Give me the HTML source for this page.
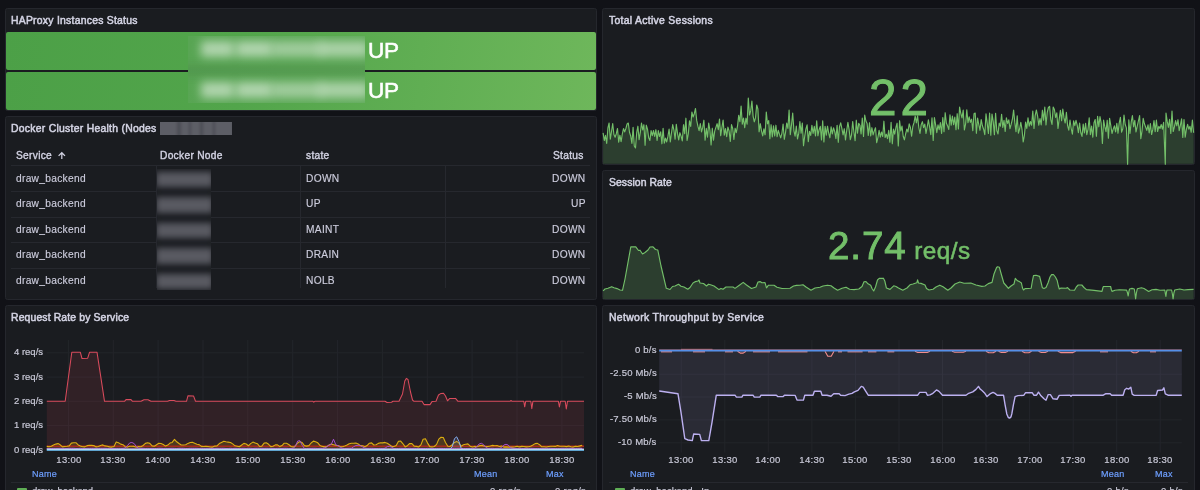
<!DOCTYPE html><html><head><meta charset="utf-8"><title>HAProxy Dashboard</title><style>
*{margin:0;padding:0;box-sizing:border-box}
html,body{width:1200px;height:490px;overflow:hidden;background:#111217;font-family:"Liberation Sans",sans-serif;color:#ccccdc}
.p{position:absolute;background:#1a1c20;border:1px solid #25272d;border-radius:2.5px;overflow:hidden}
.t{position:absolute;white-space:nowrap;line-height:12px;font-size:10px;will-change:transform}
.ti{font-size:10.4px;letter-spacing:.34px;color:#d4d4e4;-webkit-text-stroke:.5px #d4d4e4}
.ax{font-size:9.5px;color:#c8c8d6;letter-spacing:.3px;-webkit-text-stroke:.2px #c8c8d6}
.ay{font-size:9.5px;color:#c8c8d6;letter-spacing:0px;-webkit-text-stroke:.2px #c8c8d6}
.lg{font-size:9px;color:#6e9fff;letter-spacing:.25px;-webkit-text-stroke:.2px #6e9fff}
.td{font-size:10.2px;letter-spacing:.3px;color:#ccccdc;-webkit-text-stroke:.15px #ccccdc}
.th{font-size:10.2px;letter-spacing:.3px;color:#d2d2e2;-webkit-text-stroke:.38px #d2d2e2}
.hl{position:absolute;height:1px;background:#26282e}
.vl{position:absolute;width:1px;background:#26282e}
.blur{position:absolute;filter:blur(2.5px)}
svg{position:absolute;left:0;top:0}
</style></head><body>
<div class="p" style="left:5px;top:8px;width:592px;height:102.5px"></div>
<div class="p" style="left:5px;top:116px;width:592px;height:184px"></div>
<div class="p" style="left:5px;top:305.2px;width:592px;height:194.8px"></div>
<div class="p" style="left:602px;top:8px;width:592.8px;height:156.8px"></div>
<div class="p" style="left:602px;top:169.9px;width:592.8px;height:130.1px"></div>
<div class="p" style="left:602px;top:305.2px;width:592.8px;height:194.8px"></div>
<div class="t ti" style="left:11px;top:14.5px;letter-spacing:.25px">HAProxy Instances Status</div>
<div class="t ti" style="left:11px;top:122.5px;letter-spacing:.27px">Docker Cluster Health (Nodes</div>
<div class="t ti" style="left:11.4px;top:311.5px;letter-spacing:.14px">Request Rate by Service</div>
<div class="t ti" style="left:608.7px;top:14.5px;letter-spacing:.3px">Total Active Sessions</div>
<div class="t ti" style="left:608.7px;top:176.5px;letter-spacing:.08px">Session Rate</div>
<div class="t ti" style="left:608.7px;top:311.5px;">Network Throughput by Service</div>
<div style="position:absolute;left:6px;top:31.7px;width:590px;height:38.6px;border-radius:2px;background:linear-gradient(100deg,#4ca047 0%,#52a54b 40%,#6eb75b 100%)"></div>
<div style="position:absolute;left:6px;top:71.7px;width:590px;height:38.3px;border-radius:2px;background:linear-gradient(100deg,#4ca047 0%,#52a54b 40%,#6eb75b 100%)"></div>
<div style="position:absolute;left:187.5px;top:35.8px;width:177.5px;height:66.8px;overflow:hidden;background:linear-gradient(100deg,#58a553 0%,#5da957 100%)">
<div style="position:absolute;left:-20px;top:33.9px;width:220px;height:1.7px;background:#111217;filter:blur(5.5px)"></div>
<div style="position:absolute;left:13px;top:5.2px;width:33px;height:16.5px;background:rgba(255,255,255,0.52);filter:blur(4.8px)"></div>
<div style="position:absolute;left:48px;top:5.2px;width:36px;height:16.5px;background:rgba(255,255,255,0.52);filter:blur(4.8px)"></div>
<div style="position:absolute;left:84px;top:5.2px;width:50px;height:16.5px;background:rgba(255,255,255,0.42);filter:blur(4.8px)"></div>
<div style="position:absolute;left:131px;top:5.2px;width:50px;height:16.5px;background:rgba(255,255,255,0.48);filter:blur(4.8px)"></div>
<div style="position:absolute;left:13px;top:46.0px;width:33px;height:16.5px;background:rgba(255,255,255,0.52);filter:blur(4.8px)"></div>
<div style="position:absolute;left:48px;top:46.0px;width:36px;height:16.5px;background:rgba(255,255,255,0.52);filter:blur(4.8px)"></div>
<div style="position:absolute;left:84px;top:46.0px;width:50px;height:16.5px;background:rgba(255,255,255,0.42);filter:blur(4.8px)"></div>
<div style="position:absolute;left:131px;top:46.0px;width:50px;height:16.5px;background:rgba(255,255,255,0.48);filter:blur(4.8px)"></div>
</div>
<div class="t" style="left:368.3px;top:37px;font-size:22.6px;line-height:28px;color:#fff;letter-spacing:-.4px;-webkit-text-stroke:.55px #fff">UP</div>
<div class="t" style="left:368.3px;top:76.8px;font-size:22.6px;line-height:28px;color:#fff;letter-spacing:-.4px;-webkit-text-stroke:.55px #fff">UP</div>
<div style="position:absolute;left:159.8px;top:122.1px;width:72px;height:12.7px;overflow:hidden;background:#4c4d55">
<div style="position:absolute;left:-3px;top:-3px;width:20px;height:19px;background:#5d5e66;filter:blur(1.6px)"></div>
<div style="position:absolute;left:21.5px;top:-3px;width:7.5px;height:19px;background:#5d5e66;filter:blur(1.6px)"></div>
<div style="position:absolute;left:31.5px;top:-3px;width:8.5px;height:19px;background:#5d5e66;filter:blur(1.6px)"></div>
<div style="position:absolute;left:43.5px;top:-3px;width:9.5px;height:19px;background:#5d5e66;filter:blur(1.6px)"></div>
<div style="position:absolute;left:55px;top:-3px;width:18px;height:19px;background:#5d5e66;filter:blur(1.6px)"></div>
</div>
<div class="t th" style="left:15.5px;top:149.8px;">Service</div>
<svg width="1200" height="490" style="pointer-events:none"><path d="M61.8 159V152.9M58.6 155.9L61.8 152.7L65 155.9" fill="none" stroke="#d2d2e2" stroke-width="1.25"/></svg>
<div class="t th" style="left:160px;top:149.8px;">Docker Node</div>
<div class="t th" style="left:305.7px;top:149.8px;">state</div>
<div class="t th" style="right:616.7px;top:149.8px;">Status</div>
<div class="hl" style="left:11px;top:165px;width:579px"></div>
<div class="t td" style="left:15.5px;top:172.6px;">draw_backend</div>
<div class="t td" style="left:305.6px;top:172.6px;">DOWN</div>
<div class="t td" style="right:614.1px;top:172.6px;">DOWN</div>
<div class="hl" style="left:11px;top:191.00px;width:579px"></div>
<div class="t td" style="left:15.5px;top:198.15px;">draw_backend</div>
<div class="t td" style="left:305.6px;top:198.15px;">UP</div>
<div class="t td" style="right:614.1px;top:198.15px;">UP</div>
<div class="hl" style="left:11px;top:216.55px;width:579px"></div>
<div class="t td" style="left:15.5px;top:223.7px;">draw_backend</div>
<div class="t td" style="left:305.6px;top:223.7px;">MAINT</div>
<div class="t td" style="right:614.1px;top:223.7px;">DOWN</div>
<div class="hl" style="left:11px;top:242.10px;width:579px"></div>
<div class="t td" style="left:15.5px;top:249.25px;">draw_backend</div>
<div class="t td" style="left:305.6px;top:249.25px;">DRAIN</div>
<div class="t td" style="right:614.1px;top:249.25px;">DOWN</div>
<div class="hl" style="left:11px;top:267.65px;width:579px"></div>
<div class="t td" style="left:15.5px;top:274.8px;">draw_backend</div>
<div class="t td" style="left:305.6px;top:274.8px;">NOLB</div>
<div class="t td" style="right:614.1px;top:274.8px;">DOWN</div>
<div class="vl" style="left:156px;top:166px;height:122px"></div>
<div class="vl" style="left:300px;top:166px;height:122px"></div>
<div class="vl" style="left:445px;top:166px;height:122px"></div>
<div style="position:absolute;left:157.3px;top:169px;width:53.5px;height:121px;overflow:hidden;background:#1a1c20">
<div style="position:absolute;left:-1px;top:2.80px;width:57px;height:15.2px;background:#595a62;filter:blur(3px)"></div>
<div style="position:absolute;left:-1px;top:28.35px;width:57px;height:15.2px;background:#595a62;filter:blur(3px)"></div>
<div style="position:absolute;left:-1px;top:53.90px;width:57px;height:15.2px;background:#595a62;filter:blur(3px)"></div>
<div style="position:absolute;left:-1px;top:79.45px;width:57px;height:15.2px;background:#595a62;filter:blur(3px)"></div>
<div style="position:absolute;left:-1px;top:105.00px;width:57px;height:15.2px;background:#595a62;filter:blur(3px)"></div>
</div>
<svg width="1200" height="490" viewBox="0 0 1200 490">
<path d="M46.8 352.8H584.0" stroke="#23252a" stroke-width="1"/>
<path d="M46.8 377.1H584.0" stroke="#23252a" stroke-width="1"/>
<path d="M46.8 401.3H584.0" stroke="#23252a" stroke-width="1"/>
<path d="M46.8 425.6H584.0" stroke="#23252a" stroke-width="1"/>
<path d="M46.8 449.8H584.0" stroke="#23252a" stroke-width="1"/>
<path d="M68.4 340V452.6" stroke="#23252a" stroke-width="1"/>
<path d="M113.3 340V452.6" stroke="#23252a" stroke-width="1"/>
<path d="M158.1 340V452.6" stroke="#23252a" stroke-width="1"/>
<path d="M203.0 340V452.6" stroke="#23252a" stroke-width="1"/>
<path d="M247.8 340V452.6" stroke="#23252a" stroke-width="1"/>
<path d="M292.7 340V452.6" stroke="#23252a" stroke-width="1"/>
<path d="M337.6 340V452.6" stroke="#23252a" stroke-width="1"/>
<path d="M382.4 340V452.6" stroke="#23252a" stroke-width="1"/>
<path d="M427.3 340V452.6" stroke="#23252a" stroke-width="1"/>
<path d="M472.1 340V452.6" stroke="#23252a" stroke-width="1"/>
<path d="M517.0 340V452.6" stroke="#23252a" stroke-width="1"/>
<path d="M561.9 340V452.6" stroke="#23252a" stroke-width="1"/>
<path d="M46.8 401.3 L65.2 401.3 L71.8 352.2 L80.3 352.2 L82.0 358.5 L87.7 358.2 L89.6 352.2 L97.0 352.2 L104.5 401.3 L124.5 401.3 L126.0 399.6 L131.0 399.6 L132.5 401.3 L141.0 401.3 L144.0 399.7 L148.0 399.7 L151.0 401.3 L167.5 401.3 L169.5 400.5 L174.0 400.5 L176.0 401.3 L186.5 401.3 L188.0 395.7 L193.5 395.9 L195.5 401.3 L313.0 401.3 L313.8 402.2 L314.8 401.3 L385.0 401.3 L387.0 402.5 L391.5 402.3 L393.0 401.3 L399.0 401.3 L402.5 394.0 L404.8 381.0 L406.3 378.4 L408.0 379.5 L410.5 392.0 L412.5 400.0 L414.0 401.3 L422.0 401.3 L424.0 404.6 L430.0 404.6 L432.0 401.6 L436.0 401.3 L438.5 395.0 L441.0 393.4 L443.5 393.2 L445.5 396.0 L447.5 400.8 L449.5 398.6 L455.5 398.4 L458.0 401.3 L510.0 401.3 L511.0 400.5 L512.0 401.3 L523.8 401.3 L524.7 406.8 L525.7 401.3 L530.8 401.3 L531.8 408.6 L532.9 401.3 L558.4 401.3 L559.4 407.0 L560.5 401.3 L565.2 401.3 L566.3 409.0 L567.5 401.3 L584.0 401.3 L584.0 449.5 L46.8 449.5Z" fill="#f2495c" fill-opacity="0.105" stroke="none"/>
<path d="M46.8 446.4 L49.0 446.7 L51.3 446.3 L53.5 445.1 L55.8 444.1 L58.0 443.6 L60.2 444.8 L62.5 446.9 L64.7 446.5 L67.0 446.3 L69.2 445.9 L71.4 443.1 L73.7 442.7 L75.9 442.7 L78.2 444.9 L80.4 446.1 L82.6 446.8 L84.9 446.9 L87.1 445.6 L89.4 445.3 L91.6 445.4 L93.8 445.6 L96.1 446.9 L98.3 446.5 L100.6 445.5 L102.8 444.9 L105.0 445.9 L107.3 446.3 L109.5 446.9 L111.8 447.1 L114.0 446.4 L116.2 441.9 L118.5 442.8 L120.7 444.1 L123.0 444.7 L125.2 446.7 L127.4 447.1 L129.7 446.3 L131.9 446.3 L134.2 446.4 L136.4 447.2 L138.6 446.6 L140.9 446.8 L143.1 445.5 L145.4 443.4 L147.6 442.8 L149.8 443.4 L152.1 445.9 L154.3 446.3 L156.6 444.7 L158.8 443.3 L161.0 443.5 L163.3 444.5 L165.5 446.1 L167.8 445.1 L170.0 443.1 L172.2 442.4 L174.5 439.4 L176.7 441.8 L179.0 443.5 L181.2 445.0 L183.4 445.0 L185.7 444.8 L187.9 443.4 L190.2 442.5 L192.4 442.3 L194.6 443.2 L196.9 444.2 L199.1 444.6 L201.4 446.4 L203.6 446.5 L205.8 446.3 L208.1 446.5 L210.3 447.0 L212.6 447.1 L214.8 446.1 L217.0 445.9 L219.3 443.6 L221.5 442.4 L223.8 441.2 L226.0 441.7 L228.2 442.1 L230.5 442.5 L232.7 443.9 L235.0 445.8 L237.2 446.2 L239.4 446.8 L241.7 445.0 L243.9 443.4 L246.2 444.0 L248.4 445.8 L250.6 443.6 L252.9 442.1 L255.1 442.9 L257.4 443.7 L259.6 446.5 L261.8 446.2 L264.1 443.1 L266.3 442.8 L268.6 444.3 L270.8 446.6 L273.0 446.3 L275.3 444.9 L277.5 444.9 L279.8 446.6 L282.0 445.6 L284.2 443.2 L286.5 443.3 L288.7 444.5 L291.0 446.4 L293.2 447.1 L295.4 445.7 L297.7 443.0 L299.9 441.6 L302.2 442.7 L304.4 445.6 L306.6 446.1 L308.9 445.6 L311.1 443.0 L313.4 441.1 L315.6 441.7 L317.8 442.8 L320.1 445.6 L322.3 446.4 L324.6 446.9 L326.8 446.6 L329.0 444.9 L331.3 444.1 L333.5 444.7 L335.8 445.3 L338.0 445.6 L340.2 446.5 L342.5 446.7 L344.7 446.0 L347.0 445.0 L349.2 443.7 L351.4 443.2 L353.7 443.3 L355.9 443.1 L358.2 444.0 L360.4 445.6 L362.6 445.8 L364.9 446.7 L367.1 445.6 L369.4 443.2 L371.6 442.9 L373.8 445.0 L376.1 444.8 L378.3 443.4 L380.6 442.8 L382.8 442.9 L385.0 442.4 L387.3 443.3 L389.5 444.8 L391.8 446.5 L394.0 446.5 L396.2 445.5 L398.5 441.3 L400.7 441.1 L403.0 443.8 L405.2 446.9 L407.4 445.7 L409.7 443.5 L411.9 443.6 L414.2 446.2 L416.4 446.4 L418.6 447.0 L420.9 444.9 L423.1 439.2 L425.4 438.8 L427.6 443.1 L429.8 446.6 L432.1 447.0 L434.3 446.5 L436.6 444.4 L438.8 439.1 L441.0 437.3 L443.3 437.5 L445.5 442.5 L447.8 446.3 L450.0 446.5 L452.2 444.7 L454.5 442.4 L456.7 441.4 L459.0 443.1 L461.2 446.2 L463.4 444.8 L465.7 444.2 L467.9 443.9 L470.2 446.2 L472.4 447.1 L474.6 446.4 L476.9 446.8 L479.1 445.9 L481.4 445.4 L483.6 445.9 L485.8 446.5 L488.1 446.5 L490.3 446.0 L492.6 445.4 L494.8 445.8 L497.0 445.6 L499.3 446.5 L501.5 446.1 L503.8 447.1 L506.0 446.9 L508.2 447.1 L510.5 447.1 L512.7 447.1 L515.0 446.8 L517.2 446.2 L519.4 446.9 L521.7 446.4 L523.9 446.5 L526.2 446.9 L528.4 446.7 L530.6 446.2 L532.9 445.0 L535.1 443.6 L537.4 443.4 L539.6 444.7 L541.8 446.8 L544.1 446.7 L546.3 447.0 L548.6 446.5 L550.8 446.2 L553.0 446.3 L555.3 446.4 L557.5 445.6 L559.8 446.2 L562.0 446.3 L564.2 446.3 L566.5 446.6 L568.7 446.0 L571.0 446.8 L573.2 447.1 L575.4 446.2 L577.7 446.5 L579.9 445.9 L582.2 445.2 L582.2 449.5 L46.8 449.5Z" fill="#e0b400" fill-opacity="0.17" stroke="none"/>
<path d="M46.8 446.2 H584.0" stroke="#a82b1d" stroke-width="1.5" fill="none"/>
<path d="M46.8 446.4 L49.0 446.7 L51.3 446.3 L53.5 445.1 L55.8 444.1 L58.0 443.6 L60.2 444.8 L62.5 446.9 L64.7 446.5 L67.0 446.3 L69.2 445.9 L71.4 443.1 L73.7 442.7 L75.9 442.7 L78.2 444.9 L80.4 446.1 L82.6 446.8 L84.9 446.9 L87.1 445.6 L89.4 445.3 L91.6 445.4 L93.8 445.6 L96.1 446.9 L98.3 446.5 L100.6 445.5 L102.8 444.9 L105.0 445.9 L107.3 446.3 L109.5 446.9 L111.8 447.1 L114.0 446.4 L116.2 441.9 L118.5 442.8 L120.7 444.1 L123.0 444.7 L125.2 446.7 L127.4 447.1 L129.7 446.3 L131.9 446.3 L134.2 446.4 L136.4 447.2 L138.6 446.6 L140.9 446.8 L143.1 445.5 L145.4 443.4 L147.6 442.8 L149.8 443.4 L152.1 445.9 L154.3 446.3 L156.6 444.7 L158.8 443.3 L161.0 443.5 L163.3 444.5 L165.5 446.1 L167.8 445.1 L170.0 443.1 L172.2 442.4 L174.5 439.4 L176.7 441.8 L179.0 443.5 L181.2 445.0 L183.4 445.0 L185.7 444.8 L187.9 443.4 L190.2 442.5 L192.4 442.3 L194.6 443.2 L196.9 444.2 L199.1 444.6 L201.4 446.4 L203.6 446.5 L205.8 446.3 L208.1 446.5 L210.3 447.0 L212.6 447.1 L214.8 446.1 L217.0 445.9 L219.3 443.6 L221.5 442.4 L223.8 441.2 L226.0 441.7 L228.2 442.1 L230.5 442.5 L232.7 443.9 L235.0 445.8 L237.2 446.2 L239.4 446.8 L241.7 445.0 L243.9 443.4 L246.2 444.0 L248.4 445.8 L250.6 443.6 L252.9 442.1 L255.1 442.9 L257.4 443.7 L259.6 446.5 L261.8 446.2 L264.1 443.1 L266.3 442.8 L268.6 444.3 L270.8 446.6 L273.0 446.3 L275.3 444.9 L277.5 444.9 L279.8 446.6 L282.0 445.6 L284.2 443.2 L286.5 443.3 L288.7 444.5 L291.0 446.4 L293.2 447.1 L295.4 445.7 L297.7 443.0 L299.9 441.6 L302.2 442.7 L304.4 445.6 L306.6 446.1 L308.9 445.6 L311.1 443.0 L313.4 441.1 L315.6 441.7 L317.8 442.8 L320.1 445.6 L322.3 446.4 L324.6 446.9 L326.8 446.6 L329.0 444.9 L331.3 444.1 L333.5 444.7 L335.8 445.3 L338.0 445.6 L340.2 446.5 L342.5 446.7 L344.7 446.0 L347.0 445.0 L349.2 443.7 L351.4 443.2 L353.7 443.3 L355.9 443.1 L358.2 444.0 L360.4 445.6 L362.6 445.8 L364.9 446.7 L367.1 445.6 L369.4 443.2 L371.6 442.9 L373.8 445.0 L376.1 444.8 L378.3 443.4 L380.6 442.8 L382.8 442.9 L385.0 442.4 L387.3 443.3 L389.5 444.8 L391.8 446.5 L394.0 446.5 L396.2 445.5 L398.5 441.3 L400.7 441.1 L403.0 443.8 L405.2 446.9 L407.4 445.7 L409.7 443.5 L411.9 443.6 L414.2 446.2 L416.4 446.4 L418.6 447.0 L420.9 444.9 L423.1 439.2 L425.4 438.8 L427.6 443.1 L429.8 446.6 L432.1 447.0 L434.3 446.5 L436.6 444.4 L438.8 439.1 L441.0 437.3 L443.3 437.5 L445.5 442.5 L447.8 446.3 L450.0 446.5 L452.2 444.7 L454.5 442.4 L456.7 441.4 L459.0 443.1 L461.2 446.2 L463.4 444.8 L465.7 444.2 L467.9 443.9 L470.2 446.2 L472.4 447.1 L474.6 446.4 L476.9 446.8 L479.1 445.9 L481.4 445.4 L483.6 445.9 L485.8 446.5 L488.1 446.5 L490.3 446.0 L492.6 445.4 L494.8 445.8 L497.0 445.6 L499.3 446.5 L501.5 446.1 L503.8 447.1 L506.0 446.9 L508.2 447.1 L510.5 447.1 L512.7 447.1 L515.0 446.8 L517.2 446.2 L519.4 446.9 L521.7 446.4 L523.9 446.5 L526.2 446.9 L528.4 446.7 L530.6 446.2 L532.9 445.0 L535.1 443.6 L537.4 443.4 L539.6 444.7 L541.8 446.8 L544.1 446.7 L546.3 447.0 L548.6 446.5 L550.8 446.2 L553.0 446.3 L555.3 446.4 L557.5 445.6 L559.8 446.2 L562.0 446.3 L564.2 446.3 L566.5 446.6 L568.7 446.0 L571.0 446.8 L573.2 447.1 L575.4 446.2 L577.7 446.5 L579.9 445.9 L582.2 445.2" fill="none" stroke="#dcae10" stroke-width="1.1" stroke-linejoin="round"/>
<path d="M46.8 448.4 L49.0 448.4 L51.3 448.5 L53.5 448.4 L55.8 448.4 L58.0 448.4 L60.2 448.3 L62.5 448.4 L64.7 448.4 L67.0 448.5 L69.2 448.3 L71.4 448.3 L73.7 448.3 L75.9 448.5 L78.2 448.5 L80.4 448.3 L82.6 448.5 L84.9 448.5 L87.1 448.4 L89.4 448.4 L91.6 448.3 L93.8 448.3 L96.1 448.4 L98.3 448.3 L100.6 448.3 L102.8 448.3 L105.0 448.3 L107.3 448.4 L109.5 448.4 L111.8 448.5 L114.0 448.4 L116.2 448.4 L118.5 448.4 L120.7 448.4 L123.0 448.4 L125.2 447.9 L127.4 445.7 L129.7 442.9 L131.9 442.5 L134.2 443.6 L136.4 446.7 L138.6 448.2 L140.9 448.3 L143.1 448.3 L145.4 448.5 L147.6 448.4 L149.8 448.5 L152.1 448.4 L154.3 448.5 L156.6 448.5 L158.8 448.3 L161.0 448.3 L163.3 448.5 L165.5 448.4 L167.8 448.5 L170.0 448.4 L172.2 448.3 L174.5 448.4 L176.7 448.5 L179.0 448.3 L181.2 448.3 L183.4 448.3 L185.7 448.5 L187.9 448.5 L190.2 448.3 L192.4 448.3 L194.6 448.3 L196.9 448.3 L199.1 448.5 L201.4 448.3 L203.6 448.4 L205.8 448.4 L208.1 448.3 L210.3 448.5 L212.6 448.3 L214.8 448.4 L217.0 448.3 L219.3 448.4 L221.5 448.3 L223.8 448.3 L226.0 448.5 L228.2 448.5 L230.5 448.3 L232.7 448.5 L235.0 448.3 L237.2 448.4 L239.4 448.5 L241.7 448.4 L243.9 448.3 L246.2 448.5 L248.4 448.3 L250.6 448.3 L252.9 448.5 L255.1 448.3 L257.4 448.3 L259.6 448.3 L261.8 448.3 L264.1 448.4 L266.3 448.3 L268.6 448.4 L270.8 448.4 L273.0 448.4 L275.3 448.5 L277.5 448.4 L279.8 448.4 L282.0 448.5 L284.2 448.3 L286.5 448.3 L288.7 448.5 L291.0 448.5 L293.2 448.3 L295.4 446.3 L297.7 441.0 L299.9 440.7 L302.2 445.3 L304.4 448.5 L306.6 448.5 L308.9 448.4 L311.1 448.4 L313.4 448.3 L315.6 448.3 L317.8 448.5 L320.1 448.3 L322.3 448.4 L324.6 447.9 L326.8 446.8 L329.0 445.2 L331.3 444.4 L333.5 439.2 L335.8 444.8 L338.0 445.7 L340.2 447.3 L342.5 448.2 L344.7 448.5 L347.0 448.4 L349.2 448.3 L351.4 448.2 L353.7 446.7 L355.9 445.5 L358.2 445.3 L360.4 445.7 L362.6 446.9 L364.9 448.1 L367.1 448.4 L369.4 448.4 L371.6 448.3 L373.8 448.4 L376.1 448.5 L378.3 448.5 L380.6 448.4 L382.8 448.5 L385.0 448.2 L387.3 446.6 L389.5 446.3 L391.8 447.3 L394.0 448.5 L396.2 448.5 L398.5 448.5 L400.7 448.3 L403.0 448.4 L405.2 448.4 L407.4 448.5 L409.7 448.3 L411.9 448.5 L414.2 448.3 L416.4 448.4 L418.6 448.5 L420.9 448.5 L423.1 448.5 L425.4 448.5 L427.6 448.5 L429.8 448.5 L432.1 448.4 L434.3 448.5 L436.6 448.5 L438.8 448.5 L441.0 448.4 L443.3 448.5 L445.5 448.5 L447.8 448.4 L450.0 448.4 L452.2 448.4 L454.5 448.4 L456.7 448.4 L459.0 448.3 L461.2 448.4 L463.4 448.5 L465.7 448.5 L467.9 448.5 L470.2 448.4 L472.4 448.5 L474.6 448.3 L476.9 446.7 L479.1 444.0 L481.4 443.3 L483.6 444.7 L485.8 447.4 L488.1 448.4 L490.3 448.4 L492.6 448.3 L494.8 448.5 L497.0 448.4 L499.3 448.4 L501.5 447.5 L503.8 445.0 L506.0 444.3 L508.2 445.0 L510.5 447.5 L512.7 448.3 L515.0 448.3 L517.2 448.5 L519.4 448.4 L521.7 448.4 L523.9 448.5 L526.2 448.3 L528.4 448.4 L530.6 448.3 L532.9 448.4 L535.1 448.5 L537.4 448.5 L539.6 448.5 L541.8 448.4 L544.1 448.4 L546.3 448.3 L548.6 448.3 L550.8 448.4 L553.0 448.5 L555.3 448.5 L557.5 448.5 L559.8 448.5 L562.0 448.3 L564.2 448.3 L566.5 448.4 L568.7 448.3 L571.0 448.3 L573.2 448.4 L575.4 448.4 L577.7 448.4 L579.9 448.3 L582.2 448.5" fill="none" stroke="#a352cc" stroke-width="1" stroke-linejoin="round"/>
<path d="M46.8 449.0 L49.0 449.0 L51.3 449.0 L53.5 449.0 L55.8 449.0 L58.0 449.0 L60.2 449.0 L62.5 449.0 L64.7 449.0 L67.0 449.0 L69.2 449.0 L71.4 449.0 L73.7 449.0 L75.9 449.0 L78.2 449.0 L80.4 449.0 L82.6 449.0 L84.9 449.0 L87.1 449.0 L89.4 449.0 L91.6 449.0 L93.8 449.0 L96.1 449.0 L98.3 449.0 L100.6 449.0 L102.8 449.0 L105.0 449.0 L107.3 449.0 L109.5 449.0 L111.8 449.0 L114.0 449.0 L116.2 449.0 L118.5 449.0 L120.7 449.0 L123.0 449.0 L125.2 449.0 L127.4 449.0 L129.7 449.0 L131.9 449.0 L134.2 449.0 L136.4 449.0 L138.6 449.0 L140.9 449.0 L143.1 449.0 L145.4 449.0 L147.6 449.0 L149.8 449.0 L152.1 449.0 L154.3 449.0 L156.6 449.0 L158.8 449.0 L161.0 449.0 L163.3 449.0 L165.5 449.0 L167.8 449.0 L170.0 449.0 L172.2 449.0 L174.5 449.0 L176.7 449.0 L179.0 449.0 L181.2 449.0 L183.4 449.0 L185.7 449.0 L187.9 449.0 L190.2 449.0 L192.4 449.0 L194.6 449.0 L196.9 449.0 L199.1 449.0 L201.4 449.0 L203.6 449.0 L205.8 449.0 L208.1 449.0 L210.3 449.0 L212.6 449.0 L214.8 449.0 L217.0 449.0 L219.3 449.0 L221.5 449.0 L223.8 449.0 L226.0 449.0 L228.2 449.0 L230.5 449.0 L232.7 449.0 L235.0 449.0 L237.2 449.0 L239.4 449.0 L241.7 449.0 L243.9 449.0 L246.2 449.0 L248.4 449.0 L250.6 449.0 L252.9 449.0 L255.1 449.0 L257.4 449.0 L259.6 449.0 L261.8 449.0 L264.1 449.0 L266.3 449.0 L268.6 449.0 L270.8 449.0 L273.0 449.0 L275.3 449.0 L277.5 449.0 L279.8 449.0 L282.0 449.0 L284.2 449.0 L286.5 449.0 L288.7 449.0 L291.0 449.0 L293.2 449.0 L295.4 449.0 L297.7 449.0 L299.9 449.0 L302.2 449.0 L304.4 449.0 L306.6 449.0 L308.9 449.0 L311.1 449.0 L313.4 449.0 L315.6 449.0 L317.8 449.0 L320.1 449.0 L322.3 449.0 L324.6 449.0 L326.8 449.0 L329.0 449.0 L331.3 449.0 L333.5 449.0 L335.8 449.0 L338.0 449.0 L340.2 449.0 L342.5 449.0 L344.7 449.0 L347.0 449.0 L349.2 449.0 L351.4 449.0 L353.7 449.0 L355.9 449.0 L358.2 449.0 L360.4 449.0 L362.6 449.0 L364.9 449.0 L367.1 449.0 L369.4 449.0 L371.6 449.0 L373.8 449.0 L376.1 449.0 L378.3 449.0 L380.6 449.0 L382.8 449.0 L385.0 449.0 L387.3 449.0 L389.5 449.0 L391.8 449.0 L394.0 449.0 L396.2 449.0 L398.5 449.0 L400.7 449.0 L403.0 449.0 L405.2 449.0 L407.4 449.0 L409.7 449.0 L411.9 449.0 L414.2 449.0 L416.4 449.0 L418.6 449.0 L420.9 449.0 L423.1 449.0 L425.4 449.0 L427.6 449.0 L429.8 449.0 L432.1 449.0 L434.3 449.0 L436.6 449.0 L438.8 449.0 L441.0 449.0 L443.3 449.0 L445.5 449.0 L447.8 449.0 L450.0 449.0 L452.2 446.8 L454.5 438.6 L456.7 436.8 L459.0 441.5 L461.2 448.4 L463.4 449.0 L465.7 449.0 L467.9 449.0 L470.2 449.0 L472.4 449.0 L474.6 449.0 L476.9 449.0 L479.1 449.0 L481.4 449.0 L483.6 449.0 L485.8 449.0 L488.1 449.0 L490.3 449.0 L492.6 449.0 L494.8 449.0 L497.0 449.0 L499.3 449.0 L501.5 449.0 L503.8 449.0 L506.0 449.0 L508.2 449.0 L510.5 449.0 L512.7 449.0 L515.0 449.0 L517.2 449.0 L519.4 449.0 L521.7 449.0 L523.9 449.0 L526.2 449.0 L528.4 449.0 L530.6 449.0 L532.9 449.0 L535.1 449.0 L537.4 449.0 L539.6 449.0 L541.8 449.0 L544.1 449.0 L546.3 449.0 L548.6 449.0 L550.8 449.0 L553.0 449.0 L555.3 449.0 L557.5 449.0 L559.8 449.0 L562.0 449.0 L564.2 449.0 L566.5 449.0 L568.7 449.0 L571.0 449.0 L573.2 449.0 L575.4 449.0 L577.7 449.0 L579.9 449.0 L582.2 449.0 L582.2 449.5 L46.8 449.5Z" fill="#8ab8ff" fill-opacity=".12" stroke="none"/>
<path d="M46.8 449.0 L49.0 449.0 L51.3 449.0 L53.5 449.0 L55.8 449.0 L58.0 449.0 L60.2 449.0 L62.5 449.0 L64.7 449.0 L67.0 449.0 L69.2 449.0 L71.4 449.0 L73.7 449.0 L75.9 449.0 L78.2 449.0 L80.4 449.0 L82.6 449.0 L84.9 449.0 L87.1 449.0 L89.4 449.0 L91.6 449.0 L93.8 449.0 L96.1 449.0 L98.3 449.0 L100.6 449.0 L102.8 449.0 L105.0 449.0 L107.3 449.0 L109.5 449.0 L111.8 449.0 L114.0 449.0 L116.2 449.0 L118.5 449.0 L120.7 449.0 L123.0 449.0 L125.2 449.0 L127.4 449.0 L129.7 449.0 L131.9 449.0 L134.2 449.0 L136.4 449.0 L138.6 449.0 L140.9 449.0 L143.1 449.0 L145.4 449.0 L147.6 449.0 L149.8 449.0 L152.1 449.0 L154.3 449.0 L156.6 449.0 L158.8 449.0 L161.0 449.0 L163.3 449.0 L165.5 449.0 L167.8 449.0 L170.0 449.0 L172.2 449.0 L174.5 449.0 L176.7 449.0 L179.0 449.0 L181.2 449.0 L183.4 449.0 L185.7 449.0 L187.9 449.0 L190.2 449.0 L192.4 449.0 L194.6 449.0 L196.9 449.0 L199.1 449.0 L201.4 449.0 L203.6 449.0 L205.8 449.0 L208.1 449.0 L210.3 449.0 L212.6 449.0 L214.8 449.0 L217.0 449.0 L219.3 449.0 L221.5 449.0 L223.8 449.0 L226.0 449.0 L228.2 449.0 L230.5 449.0 L232.7 449.0 L235.0 449.0 L237.2 449.0 L239.4 449.0 L241.7 449.0 L243.9 449.0 L246.2 449.0 L248.4 449.0 L250.6 449.0 L252.9 449.0 L255.1 449.0 L257.4 449.0 L259.6 449.0 L261.8 449.0 L264.1 449.0 L266.3 449.0 L268.6 449.0 L270.8 449.0 L273.0 449.0 L275.3 449.0 L277.5 449.0 L279.8 449.0 L282.0 449.0 L284.2 449.0 L286.5 449.0 L288.7 449.0 L291.0 449.0 L293.2 449.0 L295.4 449.0 L297.7 449.0 L299.9 449.0 L302.2 449.0 L304.4 449.0 L306.6 449.0 L308.9 449.0 L311.1 449.0 L313.4 449.0 L315.6 449.0 L317.8 449.0 L320.1 449.0 L322.3 449.0 L324.6 449.0 L326.8 449.0 L329.0 449.0 L331.3 449.0 L333.5 449.0 L335.8 449.0 L338.0 449.0 L340.2 449.0 L342.5 449.0 L344.7 449.0 L347.0 449.0 L349.2 449.0 L351.4 449.0 L353.7 449.0 L355.9 449.0 L358.2 449.0 L360.4 449.0 L362.6 449.0 L364.9 449.0 L367.1 449.0 L369.4 449.0 L371.6 449.0 L373.8 449.0 L376.1 449.0 L378.3 449.0 L380.6 449.0 L382.8 449.0 L385.0 449.0 L387.3 449.0 L389.5 449.0 L391.8 449.0 L394.0 449.0 L396.2 449.0 L398.5 449.0 L400.7 449.0 L403.0 449.0 L405.2 449.0 L407.4 449.0 L409.7 449.0 L411.9 449.0 L414.2 449.0 L416.4 449.0 L418.6 449.0 L420.9 449.0 L423.1 449.0 L425.4 449.0 L427.6 449.0 L429.8 449.0 L432.1 449.0 L434.3 449.0 L436.6 449.0 L438.8 449.0 L441.0 449.0 L443.3 449.0 L445.5 449.0 L447.8 449.0 L450.0 449.0 L452.2 446.8 L454.5 438.6 L456.7 436.8 L459.0 441.5 L461.2 448.4 L463.4 449.0 L465.7 449.0 L467.9 449.0 L470.2 449.0 L472.4 449.0 L474.6 449.0 L476.9 449.0 L479.1 449.0 L481.4 449.0 L483.6 449.0 L485.8 449.0 L488.1 449.0 L490.3 449.0 L492.6 449.0 L494.8 449.0 L497.0 449.0 L499.3 449.0 L501.5 449.0 L503.8 449.0 L506.0 449.0 L508.2 449.0 L510.5 449.0 L512.7 449.0 L515.0 449.0 L517.2 449.0 L519.4 449.0 L521.7 449.0 L523.9 449.0 L526.2 449.0 L528.4 449.0 L530.6 449.0 L532.9 449.0 L535.1 449.0 L537.4 449.0 L539.6 449.0 L541.8 449.0 L544.1 449.0 L546.3 449.0 L548.6 449.0 L550.8 449.0 L553.0 449.0 L555.3 449.0 L557.5 449.0 L559.8 449.0 L562.0 449.0 L564.2 449.0 L566.5 449.0 L568.7 449.0 L571.0 449.0 L573.2 449.0 L575.4 449.0 L577.7 449.0 L579.9 449.0 L582.2 449.0" fill="none" stroke="#8ab8ff" stroke-width="1" opacity=".9"/>
<path d="M46.8 448.7H584.0" stroke="#c690d8" stroke-width=".8" opacity=".8"/>
<path d="M46.8 449.6H584.0" stroke="#b4dcee" stroke-width="1.3"/>
<path d="M46.8 450.5H584.0" stroke="#62aedc" stroke-width=".9"/>
<path d="M46.8 401.3 L65.2 401.3 L71.8 352.2 L80.3 352.2 L82.0 358.5 L87.7 358.2 L89.6 352.2 L97.0 352.2 L104.5 401.3 L124.5 401.3 L126.0 399.6 L131.0 399.6 L132.5 401.3 L141.0 401.3 L144.0 399.7 L148.0 399.7 L151.0 401.3 L167.5 401.3 L169.5 400.5 L174.0 400.5 L176.0 401.3 L186.5 401.3 L188.0 395.7 L193.5 395.9 L195.5 401.3 L313.0 401.3 L313.8 402.2 L314.8 401.3 L385.0 401.3 L387.0 402.5 L391.5 402.3 L393.0 401.3 L399.0 401.3 L402.5 394.0 L404.8 381.0 L406.3 378.4 L408.0 379.5 L410.5 392.0 L412.5 400.0 L414.0 401.3 L422.0 401.3 L424.0 404.6 L430.0 404.6 L432.0 401.6 L436.0 401.3 L438.5 395.0 L441.0 393.4 L443.5 393.2 L445.5 396.0 L447.5 400.8 L449.5 398.6 L455.5 398.4 L458.0 401.3 L510.0 401.3 L511.0 400.5 L512.0 401.3 L523.8 401.3 L524.7 406.8 L525.7 401.3 L530.8 401.3 L531.8 408.6 L532.9 401.3 L558.4 401.3 L559.4 407.0 L560.5 401.3 L565.2 401.3 L566.3 409.0 L567.5 401.3 L584.0 401.3" fill="none" stroke="#d94b5c" stroke-width="1.05" stroke-linejoin="round"/>
</svg>
<div class="t ay" style="right:1156.6px;top:346.2px;">4 req/s</div>
<div class="t ay" style="right:1156.6px;top:370.58px;">3 req/s</div>
<div class="t ay" style="right:1156.6px;top:394.96px;">2 req/s</div>
<div class="t ay" style="right:1156.6px;top:419.34px;">1 req/s</div>
<div class="t ay" style="right:1156.6px;top:443.71999999999997px;">0 req/s</div>
<div class="t ax" style="left:48.5px;width:40px;text-align:center;top:454.3px">13:00</div>
<div class="t ax" style="left:93.4px;width:40px;text-align:center;top:454.3px">13:30</div>
<div class="t ax" style="left:138.2px;width:40px;text-align:center;top:454.3px">14:00</div>
<div class="t ax" style="left:183.1px;width:40px;text-align:center;top:454.3px">14:30</div>
<div class="t ax" style="left:227.9px;width:40px;text-align:center;top:454.3px">15:00</div>
<div class="t ax" style="left:272.8px;width:40px;text-align:center;top:454.3px">15:30</div>
<div class="t ax" style="left:317.7px;width:40px;text-align:center;top:454.3px">16:00</div>
<div class="t ax" style="left:362.5px;width:40px;text-align:center;top:454.3px">16:30</div>
<div class="t ax" style="left:407.4px;width:40px;text-align:center;top:454.3px">17:00</div>
<div class="t ax" style="left:452.2px;width:40px;text-align:center;top:454.3px">17:30</div>
<div class="t ax" style="left:497.1px;width:40px;text-align:center;top:454.3px">18:00</div>
<div class="t ax" style="left:542.0px;width:40px;text-align:center;top:454.3px">18:30</div>
<div class="t lg" style="left:32.3px;top:467.5px;">Name</div>
<div class="t lg" style="left:474.3px;top:467.5px;">Mean</div>
<div class="t lg" style="left:546px;top:467.5px;">Max</div>
<div class="hl" style="left:11px;top:482px;width:579px"></div>
<div style="position:absolute;left:17.2px;top:488.3px;width:9.6px;height:3px;border-radius:1px;background:#5fae55"></div>
<div class="t ax" style="left:32.2px;top:485.0px;letter-spacing:-.06px">draw_backend</div>
<div class="t ax" style="left:489.8px;top:485.0px;">0 req/s</div>
<div class="t ax" style="left:554.8px;top:485.0px;">0 req/s</div>
<svg width="1200" height="490" viewBox="0 0 1200 490">
<path d="M603.1 132.8 L604.3 140.5 L605.5 135.4 L606.7 143.5 L607.9 128.0 L609.1 123.0 L610.3 139.2 L611.5 131.5 L612.7 123.5 L613.9 134.5 L615.1 137.2 L616.3 133.7 L617.5 128.5 L618.7 142.1 L619.9 135.2 L621.1 141.7 L622.3 134.0 L623.5 128.5 L624.7 131.9 L625.9 128.4 L627.1 124.0 L628.3 123.0 L629.5 132.3 L630.7 136.0 L631.9 143.4 L633.1 127.4 L634.3 146.0 L635.5 148.0 L636.7 132.7 L637.9 126.2 L639.1 139.6 L640.3 132.7 L641.5 123.0 L642.7 130.0 L643.9 124.7 L645.1 145.3 L646.3 125.2 L647.5 129.2 L648.7 137.8 L649.9 140.4 L651.1 130.6 L652.3 135.7 L653.5 130.5 L654.7 136.4 L655.9 129.7 L657.1 140.5 L658.3 130.6 L659.5 136.5 L660.7 131.9 L661.9 143.8 L663.1 128.4 L664.3 143.2 L665.5 138.1 L666.7 142.0 L667.9 136.4 L669.1 129.0 L670.3 142.0 L671.5 132.7 L672.7 124.6 L673.9 130.0 L675.1 139.1 L676.3 124.4 L677.5 133.4 L678.7 140.0 L679.9 132.7 L681.1 136.1 L682.3 140.9 L683.5 124.7 L684.7 133.7 L685.9 118.2 L687.1 140.5 L688.3 134.0 L689.5 120.8 L690.7 126.4 L691.9 112.0 L693.1 117.0 L694.3 113.7 L695.5 108.5 L696.7 120.4 L697.9 126.2 L699.1 130.7 L700.3 123.5 L701.5 131.8 L702.7 127.4 L703.9 120.2 L705.1 140.2 L706.3 128.3 L707.5 137.1 L708.7 123.1 L709.9 130.2 L711.1 145.0 L712.3 128.2 L713.5 140.2 L714.7 131.2 L715.9 127.4 L717.1 123.7 L718.3 129.7 L719.5 119.0 L720.7 135.7 L721.9 127.5 L723.1 120.1 L724.3 135.2 L725.5 128.6 L726.7 136.7 L727.9 127.1 L729.1 131.0 L730.3 141.4 L731.5 124.6 L732.7 128.5 L733.9 139.5 L735.1 128.2 L736.3 132.7 L737.5 126.2 L738.7 115.4 L739.9 121.7 L741.1 106.0 L742.3 124.1 L743.5 118.0 L744.7 127.6 L745.9 118.2 L747.1 124.1 L748.3 98.0 L749.5 115.0 L750.7 110.9 L751.9 101.0 L753.1 116.1 L754.3 121.8 L755.5 117.9 L756.7 105.0 L757.9 109.0 L759.1 131.8 L760.3 123.7 L761.5 130.8 L762.7 135.9 L763.9 128.9 L765.1 134.8 L766.3 112.0 L767.5 123.8 L768.7 120.6 L769.9 138.7 L771.1 124.7 L772.3 136.9 L773.5 125.9 L774.7 136.0 L775.9 125.2 L777.1 136.6 L778.3 130.4 L779.5 134.4 L780.7 137.8 L781.9 133.3 L783.1 124.1 L784.3 139.3 L785.5 132.6 L786.7 123.0 L787.9 128.5 L789.1 110.0 L790.3 134.6 L791.5 124.7 L792.7 113.0 L793.9 130.6 L795.1 136.1 L796.3 126.0 L797.5 138.9 L798.7 133.4 L799.9 121.5 L801.1 133.2 L802.3 123.1 L803.5 145.8 L804.7 136.3 L805.9 128.8 L807.1 124.9 L808.3 141.6 L809.5 131.4 L810.7 135.4 L811.9 125.4 L813.1 133.5 L814.3 126.3 L815.5 136.0 L816.7 120.8 L817.9 135.8 L819.1 129.7 L820.3 126.4 L821.5 139.9 L822.7 120.9 L823.9 142.0 L825.1 126.4 L826.3 135.2 L827.5 126.2 L828.7 133.1 L829.9 137.8 L831.1 126.9 L832.3 133.9 L833.5 127.8 L834.7 131.4 L835.9 138.7 L837.1 125.3 L838.3 142.3 L839.5 126.6 L840.7 122.8 L841.9 128.6 L843.1 134.9 L844.3 128.7 L845.5 139.9 L846.7 130.5 L847.9 122.3 L849.1 129.4 L850.3 139.7 L851.5 135.0 L852.7 121.5 L853.9 132.0 L855.1 140.6 L856.3 120.2 L857.5 133.1 L858.7 123.3 L859.9 125.2 L861.1 133.9 L862.3 118.0 L863.5 136.4 L864.7 115.0 L865.9 121.0 L867.1 123.4 L868.3 135.4 L869.5 122.7 L870.7 136.0 L871.9 127.7 L873.1 134.9 L874.3 130.9 L875.5 127.8 L876.7 142.6 L877.9 137.6 L879.1 130.4 L880.3 137.1 L881.5 132.0 L882.7 136.5 L883.9 121.2 L885.1 137.5 L886.3 134.2 L887.5 138.6 L888.7 130.4 L889.9 142.1 L891.1 122.4 L892.3 143.6 L893.5 129.1 L894.7 134.2 L895.9 127.5 L897.1 123.2 L898.3 146.0 L899.6 120.7 L900.8 130.9 L902.0 126.1 L903.2 136.3 L904.4 139.8 L905.6 134.0 L906.8 129.1 L908.0 131.9 L909.2 123.9 L910.4 127.4 L911.6 136.2 L912.8 126.5 L914.0 122.7 L915.2 116.0 L916.4 122.8 L917.6 115.8 L918.8 127.5 L920.0 133.5 L921.2 124.6 L922.4 121.7 L923.6 127.6 L924.8 124.1 L926.0 133.4 L927.2 127.0 L928.4 119.8 L929.6 126.9 L930.8 134.6 L932.0 117.9 L933.2 140.4 L934.4 117.5 L935.6 124.6 L936.8 132.6 L938.0 124.9 L939.2 129.6 L940.4 122.6 L941.6 133.4 L942.8 117.6 L944.0 131.7 L945.2 112.7 L946.4 123.2 L947.6 125.9 L948.8 129.5 L950.0 114.8 L951.2 125.1 L952.4 116.0 L953.6 124.7 L954.8 117.1 L956.0 129.6 L957.2 113.7 L958.4 129.0 L959.6 107.0 L960.8 113.3 L962.0 117.9 L963.2 110.0 L964.4 130.0 L965.6 124.0 L966.8 109.8 L968.0 122.6 L969.2 116.8 L970.4 122.3 L971.6 119.2 L972.8 130.7 L974.0 113.8 L975.2 113.0 L976.4 133.3 L977.6 118.1 L978.8 124.6 L980.0 130.3 L981.2 119.5 L982.4 125.8 L983.6 129.2 L984.8 134.7 L986.0 113.9 L987.2 123.1 L988.4 133.5 L989.6 113.0 L990.8 135.2 L992.0 114.1 L993.2 121.3 L994.4 134.7 L995.6 113.4 L996.8 130.6 L998.0 134.0 L999.2 123.1 L1000.4 126.1 L1001.6 114.3 L1002.8 127.4 L1004.0 120.4 L1005.2 131.4 L1006.4 117.8 L1007.6 123.5 L1008.8 119.9 L1010.0 128.6 L1011.2 124.2 L1012.4 119.2 L1013.6 110.0 L1014.8 122.4 L1016.0 131.6 L1017.2 115.8 L1018.4 133.2 L1019.6 129.0 L1020.8 122.4 L1022.0 129.3 L1023.2 142.0 L1024.4 135.3 L1025.6 122.1 L1026.8 128.4 L1028.0 117.9 L1029.2 126.1 L1030.4 121.5 L1031.6 125.2 L1032.8 111.1 L1034.0 128.4 L1035.2 115.3 L1036.4 110.0 L1037.6 116.1 L1038.8 125.2 L1040.0 118.5 L1041.2 124.9 L1042.4 110.2 L1043.6 120.3 L1044.8 107.0 L1046.0 124.9 L1047.2 112.7 L1048.4 107.5 L1049.6 106.4 L1050.8 119.6 L1052.0 124.4 L1053.2 107.0 L1054.4 109.5 L1055.6 117.5 L1056.8 112.8 L1058.0 128.5 L1059.2 119.1 L1060.4 110.3 L1061.6 120.8 L1062.8 109.0 L1064.0 117.9 L1065.2 123.0 L1066.4 112.4 L1067.6 125.6 L1068.8 130.1 L1070.0 120.0 L1071.2 128.5 L1072.4 134.2 L1073.6 120.9 L1074.8 125.7 L1076.0 120.4 L1077.2 125.1 L1078.4 132.6 L1079.6 123.0 L1080.8 132.8 L1082.0 136.4 L1083.2 124.1 L1084.4 133.0 L1085.6 123.3 L1086.8 134.7 L1088.0 129.3 L1089.2 117.9 L1090.4 134.7 L1091.6 126.0 L1092.8 137.1 L1094.0 122.8 L1095.2 119.5 L1096.4 136.3 L1097.6 116.4 L1098.8 126.8 L1100.0 116.5 L1101.2 123.3 L1102.4 143.5 L1103.6 120.1 L1104.8 126.7 L1106.0 131.6 L1107.2 120.2 L1108.4 138.1 L1109.6 118.3 L1110.8 125.6 L1112.0 133.5 L1113.2 129.1 L1114.4 125.9 L1115.6 131.9 L1116.8 123.3 L1118.0 133.3 L1119.2 123.1 L1120.4 117.4 L1121.6 132.1 L1122.8 128.7 L1124.0 115.0 L1125.2 124.5 L1126.4 127.9 L1127.6 164.3 L1128.8 119.9 L1130.0 133.4 L1131.2 122.2 L1132.4 115.5 L1133.6 126.8 L1134.8 120.3 L1136.0 131.9 L1137.2 126.4 L1138.4 121.0 L1139.6 115.5 L1140.8 138.6 L1142.0 131.1 L1143.2 118.3 L1144.4 123.8 L1145.6 127.0 L1146.8 130.4 L1148.0 124.8 L1149.2 133.0 L1150.4 123.5 L1151.6 134.5 L1152.8 129.4 L1154.0 120.5 L1155.2 131.6 L1156.4 120.0 L1157.6 131.5 L1158.8 126.4 L1160.0 128.5 L1161.2 124.5 L1162.4 129.2 L1163.6 122.3 L1165.3 164.3 L1166.0 113.0 L1167.2 121.4 L1168.4 127.3 L1169.6 119.4 L1170.8 133.4 L1172.0 111.0 L1173.2 131.5 L1174.4 126.9 L1175.6 120.6 L1176.8 125.8 L1178.0 119.7 L1179.2 130.6 L1180.4 125.1 L1181.6 118.9 L1182.8 137.4 L1184.0 119.5 L1185.2 137.2 L1186.4 129.4 L1187.6 124.4 L1188.8 129.2 L1190.0 126.3 L1191.2 132.3 L1192.4 120.1 L1193.6 132.7 L1193.6 163.8 L603.1 163.8Z" fill="#73bf69" fill-opacity="0.21" stroke="none"/>
<path d="M603.1 132.8 L604.3 140.5 L605.5 135.4 L606.7 143.5 L607.9 128.0 L609.1 123.0 L610.3 139.2 L611.5 131.5 L612.7 123.5 L613.9 134.5 L615.1 137.2 L616.3 133.7 L617.5 128.5 L618.7 142.1 L619.9 135.2 L621.1 141.7 L622.3 134.0 L623.5 128.5 L624.7 131.9 L625.9 128.4 L627.1 124.0 L628.3 123.0 L629.5 132.3 L630.7 136.0 L631.9 143.4 L633.1 127.4 L634.3 146.0 L635.5 148.0 L636.7 132.7 L637.9 126.2 L639.1 139.6 L640.3 132.7 L641.5 123.0 L642.7 130.0 L643.9 124.7 L645.1 145.3 L646.3 125.2 L647.5 129.2 L648.7 137.8 L649.9 140.4 L651.1 130.6 L652.3 135.7 L653.5 130.5 L654.7 136.4 L655.9 129.7 L657.1 140.5 L658.3 130.6 L659.5 136.5 L660.7 131.9 L661.9 143.8 L663.1 128.4 L664.3 143.2 L665.5 138.1 L666.7 142.0 L667.9 136.4 L669.1 129.0 L670.3 142.0 L671.5 132.7 L672.7 124.6 L673.9 130.0 L675.1 139.1 L676.3 124.4 L677.5 133.4 L678.7 140.0 L679.9 132.7 L681.1 136.1 L682.3 140.9 L683.5 124.7 L684.7 133.7 L685.9 118.2 L687.1 140.5 L688.3 134.0 L689.5 120.8 L690.7 126.4 L691.9 112.0 L693.1 117.0 L694.3 113.7 L695.5 108.5 L696.7 120.4 L697.9 126.2 L699.1 130.7 L700.3 123.5 L701.5 131.8 L702.7 127.4 L703.9 120.2 L705.1 140.2 L706.3 128.3 L707.5 137.1 L708.7 123.1 L709.9 130.2 L711.1 145.0 L712.3 128.2 L713.5 140.2 L714.7 131.2 L715.9 127.4 L717.1 123.7 L718.3 129.7 L719.5 119.0 L720.7 135.7 L721.9 127.5 L723.1 120.1 L724.3 135.2 L725.5 128.6 L726.7 136.7 L727.9 127.1 L729.1 131.0 L730.3 141.4 L731.5 124.6 L732.7 128.5 L733.9 139.5 L735.1 128.2 L736.3 132.7 L737.5 126.2 L738.7 115.4 L739.9 121.7 L741.1 106.0 L742.3 124.1 L743.5 118.0 L744.7 127.6 L745.9 118.2 L747.1 124.1 L748.3 98.0 L749.5 115.0 L750.7 110.9 L751.9 101.0 L753.1 116.1 L754.3 121.8 L755.5 117.9 L756.7 105.0 L757.9 109.0 L759.1 131.8 L760.3 123.7 L761.5 130.8 L762.7 135.9 L763.9 128.9 L765.1 134.8 L766.3 112.0 L767.5 123.8 L768.7 120.6 L769.9 138.7 L771.1 124.7 L772.3 136.9 L773.5 125.9 L774.7 136.0 L775.9 125.2 L777.1 136.6 L778.3 130.4 L779.5 134.4 L780.7 137.8 L781.9 133.3 L783.1 124.1 L784.3 139.3 L785.5 132.6 L786.7 123.0 L787.9 128.5 L789.1 110.0 L790.3 134.6 L791.5 124.7 L792.7 113.0 L793.9 130.6 L795.1 136.1 L796.3 126.0 L797.5 138.9 L798.7 133.4 L799.9 121.5 L801.1 133.2 L802.3 123.1 L803.5 145.8 L804.7 136.3 L805.9 128.8 L807.1 124.9 L808.3 141.6 L809.5 131.4 L810.7 135.4 L811.9 125.4 L813.1 133.5 L814.3 126.3 L815.5 136.0 L816.7 120.8 L817.9 135.8 L819.1 129.7 L820.3 126.4 L821.5 139.9 L822.7 120.9 L823.9 142.0 L825.1 126.4 L826.3 135.2 L827.5 126.2 L828.7 133.1 L829.9 137.8 L831.1 126.9 L832.3 133.9 L833.5 127.8 L834.7 131.4 L835.9 138.7 L837.1 125.3 L838.3 142.3 L839.5 126.6 L840.7 122.8 L841.9 128.6 L843.1 134.9 L844.3 128.7 L845.5 139.9 L846.7 130.5 L847.9 122.3 L849.1 129.4 L850.3 139.7 L851.5 135.0 L852.7 121.5 L853.9 132.0 L855.1 140.6 L856.3 120.2 L857.5 133.1 L858.7 123.3 L859.9 125.2 L861.1 133.9 L862.3 118.0 L863.5 136.4 L864.7 115.0 L865.9 121.0 L867.1 123.4 L868.3 135.4 L869.5 122.7 L870.7 136.0 L871.9 127.7 L873.1 134.9 L874.3 130.9 L875.5 127.8 L876.7 142.6 L877.9 137.6 L879.1 130.4 L880.3 137.1 L881.5 132.0 L882.7 136.5 L883.9 121.2 L885.1 137.5 L886.3 134.2 L887.5 138.6 L888.7 130.4 L889.9 142.1 L891.1 122.4 L892.3 143.6 L893.5 129.1 L894.7 134.2 L895.9 127.5 L897.1 123.2 L898.3 146.0 L899.6 120.7 L900.8 130.9 L902.0 126.1 L903.2 136.3 L904.4 139.8 L905.6 134.0 L906.8 129.1 L908.0 131.9 L909.2 123.9 L910.4 127.4 L911.6 136.2 L912.8 126.5 L914.0 122.7 L915.2 116.0 L916.4 122.8 L917.6 115.8 L918.8 127.5 L920.0 133.5 L921.2 124.6 L922.4 121.7 L923.6 127.6 L924.8 124.1 L926.0 133.4 L927.2 127.0 L928.4 119.8 L929.6 126.9 L930.8 134.6 L932.0 117.9 L933.2 140.4 L934.4 117.5 L935.6 124.6 L936.8 132.6 L938.0 124.9 L939.2 129.6 L940.4 122.6 L941.6 133.4 L942.8 117.6 L944.0 131.7 L945.2 112.7 L946.4 123.2 L947.6 125.9 L948.8 129.5 L950.0 114.8 L951.2 125.1 L952.4 116.0 L953.6 124.7 L954.8 117.1 L956.0 129.6 L957.2 113.7 L958.4 129.0 L959.6 107.0 L960.8 113.3 L962.0 117.9 L963.2 110.0 L964.4 130.0 L965.6 124.0 L966.8 109.8 L968.0 122.6 L969.2 116.8 L970.4 122.3 L971.6 119.2 L972.8 130.7 L974.0 113.8 L975.2 113.0 L976.4 133.3 L977.6 118.1 L978.8 124.6 L980.0 130.3 L981.2 119.5 L982.4 125.8 L983.6 129.2 L984.8 134.7 L986.0 113.9 L987.2 123.1 L988.4 133.5 L989.6 113.0 L990.8 135.2 L992.0 114.1 L993.2 121.3 L994.4 134.7 L995.6 113.4 L996.8 130.6 L998.0 134.0 L999.2 123.1 L1000.4 126.1 L1001.6 114.3 L1002.8 127.4 L1004.0 120.4 L1005.2 131.4 L1006.4 117.8 L1007.6 123.5 L1008.8 119.9 L1010.0 128.6 L1011.2 124.2 L1012.4 119.2 L1013.6 110.0 L1014.8 122.4 L1016.0 131.6 L1017.2 115.8 L1018.4 133.2 L1019.6 129.0 L1020.8 122.4 L1022.0 129.3 L1023.2 142.0 L1024.4 135.3 L1025.6 122.1 L1026.8 128.4 L1028.0 117.9 L1029.2 126.1 L1030.4 121.5 L1031.6 125.2 L1032.8 111.1 L1034.0 128.4 L1035.2 115.3 L1036.4 110.0 L1037.6 116.1 L1038.8 125.2 L1040.0 118.5 L1041.2 124.9 L1042.4 110.2 L1043.6 120.3 L1044.8 107.0 L1046.0 124.9 L1047.2 112.7 L1048.4 107.5 L1049.6 106.4 L1050.8 119.6 L1052.0 124.4 L1053.2 107.0 L1054.4 109.5 L1055.6 117.5 L1056.8 112.8 L1058.0 128.5 L1059.2 119.1 L1060.4 110.3 L1061.6 120.8 L1062.8 109.0 L1064.0 117.9 L1065.2 123.0 L1066.4 112.4 L1067.6 125.6 L1068.8 130.1 L1070.0 120.0 L1071.2 128.5 L1072.4 134.2 L1073.6 120.9 L1074.8 125.7 L1076.0 120.4 L1077.2 125.1 L1078.4 132.6 L1079.6 123.0 L1080.8 132.8 L1082.0 136.4 L1083.2 124.1 L1084.4 133.0 L1085.6 123.3 L1086.8 134.7 L1088.0 129.3 L1089.2 117.9 L1090.4 134.7 L1091.6 126.0 L1092.8 137.1 L1094.0 122.8 L1095.2 119.5 L1096.4 136.3 L1097.6 116.4 L1098.8 126.8 L1100.0 116.5 L1101.2 123.3 L1102.4 143.5 L1103.6 120.1 L1104.8 126.7 L1106.0 131.6 L1107.2 120.2 L1108.4 138.1 L1109.6 118.3 L1110.8 125.6 L1112.0 133.5 L1113.2 129.1 L1114.4 125.9 L1115.6 131.9 L1116.8 123.3 L1118.0 133.3 L1119.2 123.1 L1120.4 117.4 L1121.6 132.1 L1122.8 128.7 L1124.0 115.0 L1125.2 124.5 L1126.4 127.9 L1127.6 164.3 L1128.8 119.9 L1130.0 133.4 L1131.2 122.2 L1132.4 115.5 L1133.6 126.8 L1134.8 120.3 L1136.0 131.9 L1137.2 126.4 L1138.4 121.0 L1139.6 115.5 L1140.8 138.6 L1142.0 131.1 L1143.2 118.3 L1144.4 123.8 L1145.6 127.0 L1146.8 130.4 L1148.0 124.8 L1149.2 133.0 L1150.4 123.5 L1151.6 134.5 L1152.8 129.4 L1154.0 120.5 L1155.2 131.6 L1156.4 120.0 L1157.6 131.5 L1158.8 126.4 L1160.0 128.5 L1161.2 124.5 L1162.4 129.2 L1163.6 122.3 L1165.3 164.3 L1166.0 113.0 L1167.2 121.4 L1168.4 127.3 L1169.6 119.4 L1170.8 133.4 L1172.0 111.0 L1173.2 131.5 L1174.4 126.9 L1175.6 120.6 L1176.8 125.8 L1178.0 119.7 L1179.2 130.6 L1180.4 125.1 L1181.6 118.9 L1182.8 137.4 L1184.0 119.5 L1185.2 137.2 L1186.4 129.4 L1187.6 124.4 L1188.8 129.2 L1190.0 126.3 L1191.2 132.3 L1192.4 120.1 L1193.6 132.7" fill="none" stroke="#73bf69" stroke-width="1.15" stroke-linejoin="round"/>
<path d="M603.1 290.8 L605.0 289.0 L608.0 288.3 L611.7 286.7 L614.0 287.8 L617.0 288.6 L620.0 290.0 L622.5 290.3 L625.0 279.0 L630.8 246.8 L635.8 246.8 L638.5 250.5 L640.0 250.2 L642.5 254.0 L645.0 252.5 L648.0 250.0 L650.0 247.0 L653.0 246.8 L655.5 249.5 L657.8 250.0 L661.0 266.0 L666.3 288.3 L670.0 289.5 L672.5 286.5 L675.0 286.0 L678.5 284.3 L681.0 286.2 L684.0 287.0 L687.8 289.2 L690.0 287.5 L693.0 283.0 L695.5 281.6 L698.0 281.0 L699.0 280.0 L700.0 283.0 L703.5 283.5 L706.5 286.0 L708.5 284.2 L710.5 284.8 L714.0 286.0 L719.0 289.6 L721.0 288.4 L723.0 289.3 L726.0 287.0 L733.0 287.0 L735.0 288.4 L739.0 285.5 L743.2 282.4 L746.5 285.0 L751.5 288.5 L756.0 287.0 L758.0 282.0 L760.0 281.6 L762.0 282.8 L765.0 282.6 L766.5 287.8 L768.5 285.2 L774.0 285.2 L777.0 287.2 L782.0 288.5 L790.0 288.2 L793.5 286.0 L796.5 285.4 L800.0 285.3 L803.0 284.8 L806.0 287.0 L811.0 290.2 L815.0 288.0 L820.0 287.3 L823.0 286.0 L827.5 285.2 L831.0 285.8 L834.0 288.0 L837.6 290.2 L842.0 288.3 L846.0 287.2 L849.6 289.2 L854.0 289.6 L858.8 289.0 L862.0 286.5 L864.0 281.8 L866.0 281.6 L868.0 283.8 L870.7 285.3 L872.0 288.5 L873.7 291.0 L875.5 287.0 L877.5 280.0 L879.2 278.4 L883.4 278.2 L884.8 281.0 L886.4 288.0 L890.0 289.4 L893.7 285.8 L896.0 286.5 L898.5 288.0 L902.8 290.2 L907.0 288.0 L910.0 284.8 L913.0 284.0 L916.8 282.8 L917.6 279.8 L918.5 283.0 L921.0 283.4 L925.0 285.0 L926.5 288.5 L929.0 290.0 L933.0 289.2 L936.0 287.0 L939.8 285.2 L943.0 286.8 L947.8 290.2 L951.0 288.0 L955.0 284.0 L959.8 282.0 L964.0 283.2 L970.8 283.0 L976.0 285.0 L981.8 286.4 L985.0 286.0 L988.3 283.6 L992.0 282.4 L994.0 274.0 L996.6 267.5 L997.5 266.8 L999.4 267.3 L1001.5 275.0 L1003.8 283.0 L1006.0 285.5 L1008.4 288.3 L1011.0 286.0 L1014.0 284.0 L1015.3 278.3 L1017.5 280.8 L1019.5 281.6 L1021.4 283.0 L1022.5 288.0 L1023.5 290.0 L1025.0 288.6 L1031.2 288.2 L1032.2 282.0 L1033.5 275.6 L1036.0 275.3 L1039.6 276.4 L1041.0 282.0 L1042.4 287.8 L1044.0 288.6 L1046.0 287.5 L1048.0 283.0 L1050.0 277.0 L1051.6 274.6 L1053.4 274.5 L1055.4 277.0 L1057.2 280.6 L1058.4 286.0 L1059.3 289.0 L1061.0 288.0 L1066.2 288.3 L1067.5 287.6 L1069.9 290.0 L1074.5 290.2 L1076.3 287.0 L1078.2 285.0 L1081.8 285.0 L1084.0 287.5 L1086.4 289.6 L1094.0 290.4 L1102.0 291.4 L1102.8 288.0 L1103.4 286.5 L1110.6 286.5 L1111.3 289.5 L1112.0 291.4 L1115.0 290.2 L1119.4 289.7 L1126.6 290.1 L1127.4 292.5 L1128.2 296.0 L1129.0 291.0 L1129.6 289.0 L1132.0 288.4 L1134.3 289.0 L1135.0 293.5 L1135.6 298.8 L1136.4 293.0 L1137.3 288.8 L1141.4 287.8 L1144.0 288.5 L1148.7 291.4 L1152.0 289.8 L1156.0 289.4 L1160.0 290.2 L1164.8 290.0 L1165.3 293.5 L1165.9 296.4 L1166.5 292.0 L1167.0 290.0 L1171.6 290.0 L1172.4 294.0 L1173.1 298.8 L1173.9 293.0 L1174.7 290.0 L1179.8 289.0 L1184.0 290.0 L1188.0 289.6 L1193.6 289.4 L1193.6 299.0 L603.1 299.0Z" fill="#73bf69" fill-opacity="0.21" stroke="none"/>
<path d="M603.1 290.8 L605.0 289.0 L608.0 288.3 L611.7 286.7 L614.0 287.8 L617.0 288.6 L620.0 290.0 L622.5 290.3 L625.0 279.0 L630.8 246.8 L635.8 246.8 L638.5 250.5 L640.0 250.2 L642.5 254.0 L645.0 252.5 L648.0 250.0 L650.0 247.0 L653.0 246.8 L655.5 249.5 L657.8 250.0 L661.0 266.0 L666.3 288.3 L670.0 289.5 L672.5 286.5 L675.0 286.0 L678.5 284.3 L681.0 286.2 L684.0 287.0 L687.8 289.2 L690.0 287.5 L693.0 283.0 L695.5 281.6 L698.0 281.0 L699.0 280.0 L700.0 283.0 L703.5 283.5 L706.5 286.0 L708.5 284.2 L710.5 284.8 L714.0 286.0 L719.0 289.6 L721.0 288.4 L723.0 289.3 L726.0 287.0 L733.0 287.0 L735.0 288.4 L739.0 285.5 L743.2 282.4 L746.5 285.0 L751.5 288.5 L756.0 287.0 L758.0 282.0 L760.0 281.6 L762.0 282.8 L765.0 282.6 L766.5 287.8 L768.5 285.2 L774.0 285.2 L777.0 287.2 L782.0 288.5 L790.0 288.2 L793.5 286.0 L796.5 285.4 L800.0 285.3 L803.0 284.8 L806.0 287.0 L811.0 290.2 L815.0 288.0 L820.0 287.3 L823.0 286.0 L827.5 285.2 L831.0 285.8 L834.0 288.0 L837.6 290.2 L842.0 288.3 L846.0 287.2 L849.6 289.2 L854.0 289.6 L858.8 289.0 L862.0 286.5 L864.0 281.8 L866.0 281.6 L868.0 283.8 L870.7 285.3 L872.0 288.5 L873.7 291.0 L875.5 287.0 L877.5 280.0 L879.2 278.4 L883.4 278.2 L884.8 281.0 L886.4 288.0 L890.0 289.4 L893.7 285.8 L896.0 286.5 L898.5 288.0 L902.8 290.2 L907.0 288.0 L910.0 284.8 L913.0 284.0 L916.8 282.8 L917.6 279.8 L918.5 283.0 L921.0 283.4 L925.0 285.0 L926.5 288.5 L929.0 290.0 L933.0 289.2 L936.0 287.0 L939.8 285.2 L943.0 286.8 L947.8 290.2 L951.0 288.0 L955.0 284.0 L959.8 282.0 L964.0 283.2 L970.8 283.0 L976.0 285.0 L981.8 286.4 L985.0 286.0 L988.3 283.6 L992.0 282.4 L994.0 274.0 L996.6 267.5 L997.5 266.8 L999.4 267.3 L1001.5 275.0 L1003.8 283.0 L1006.0 285.5 L1008.4 288.3 L1011.0 286.0 L1014.0 284.0 L1015.3 278.3 L1017.5 280.8 L1019.5 281.6 L1021.4 283.0 L1022.5 288.0 L1023.5 290.0 L1025.0 288.6 L1031.2 288.2 L1032.2 282.0 L1033.5 275.6 L1036.0 275.3 L1039.6 276.4 L1041.0 282.0 L1042.4 287.8 L1044.0 288.6 L1046.0 287.5 L1048.0 283.0 L1050.0 277.0 L1051.6 274.6 L1053.4 274.5 L1055.4 277.0 L1057.2 280.6 L1058.4 286.0 L1059.3 289.0 L1061.0 288.0 L1066.2 288.3 L1067.5 287.6 L1069.9 290.0 L1074.5 290.2 L1076.3 287.0 L1078.2 285.0 L1081.8 285.0 L1084.0 287.5 L1086.4 289.6 L1094.0 290.4 L1102.0 291.4 L1102.8 288.0 L1103.4 286.5 L1110.6 286.5 L1111.3 289.5 L1112.0 291.4 L1115.0 290.2 L1119.4 289.7 L1126.6 290.1 L1127.4 292.5 L1128.2 296.0 L1129.0 291.0 L1129.6 289.0 L1132.0 288.4 L1134.3 289.0 L1135.0 293.5 L1135.6 298.8 L1136.4 293.0 L1137.3 288.8 L1141.4 287.8 L1144.0 288.5 L1148.7 291.4 L1152.0 289.8 L1156.0 289.4 L1160.0 290.2 L1164.8 290.0 L1165.3 293.5 L1165.9 296.4 L1166.5 292.0 L1167.0 290.0 L1171.6 290.0 L1172.4 294.0 L1173.1 298.8 L1173.9 293.0 L1174.7 290.0 L1179.8 289.0 L1184.0 290.0 L1188.0 289.6 L1193.6 289.4" fill="none" stroke="#73bf69" stroke-width="1.15" stroke-linejoin="round"/>
<path d="M659.2 351.3H1181.8" stroke="#23252a" stroke-width="1"/>
<path d="M659.2 374.2H1181.8" stroke="#23252a" stroke-width="1"/>
<path d="M659.2 397.0H1181.8" stroke="#23252a" stroke-width="1"/>
<path d="M659.2 419.9H1181.8" stroke="#23252a" stroke-width="1"/>
<path d="M659.2 442.8H1181.8" stroke="#23252a" stroke-width="1"/>
<path d="M681.2 340V452.6" stroke="#23252a" stroke-width="1"/>
<path d="M724.8 340V452.6" stroke="#23252a" stroke-width="1"/>
<path d="M768.3 340V452.6" stroke="#23252a" stroke-width="1"/>
<path d="M811.9 340V452.6" stroke="#23252a" stroke-width="1"/>
<path d="M855.4 340V452.6" stroke="#23252a" stroke-width="1"/>
<path d="M899.0 340V452.6" stroke="#23252a" stroke-width="1"/>
<path d="M942.5 340V452.6" stroke="#23252a" stroke-width="1"/>
<path d="M986.0 340V452.6" stroke="#23252a" stroke-width="1"/>
<path d="M1029.6 340V452.6" stroke="#23252a" stroke-width="1"/>
<path d="M1073.2 340V452.6" stroke="#23252a" stroke-width="1"/>
<path d="M1116.7 340V452.6" stroke="#23252a" stroke-width="1"/>
<path d="M1160.2 340V452.6" stroke="#23252a" stroke-width="1"/>
<path d="M659.2 391.0 L678.0 393.8 L681.0 412.4 L684.8 438.7 L688.0 440.0 L692.3 440.6 L693.7 434.0 L699.7 434.4 L701.4 440.6 L708.8 440.6 L712.0 422.4 L716.3 395.2 L735.0 395.2 L736.4 397.1 L741.9 397.1 L743.0 395.2 L753.0 395.2 L754.3 397.1 L759.8 397.1 L761.0 395.2 L776.3 395.2 L777.7 396.6 L783.2 396.6 L784.5 395.2 L795.2 395.4 L797.0 400.1 L803.4 400.1 L804.8 395.2 L813.0 395.2 L814.4 391.3 L820.8 391.3 L822.1 395.2 L827.0 395.2 L831.0 396.2 L833.7 393.8 L839.2 393.8 L840.6 395.2 L845.0 395.6 L848.9 394.1 L852.0 393.4 L854.4 391.9 L858.0 390.4 L861.3 386.4 L863.2 387.2 L865.5 390.9 L868.2 395.2 L917.7 395.2 L919.7 392.4 L926.0 392.4 L927.4 395.2 L930.0 394.9 L932.9 393.3 L936.5 389.9 L939.0 391.4 L942.5 395.2 L966.0 395.2 L968.7 393.3 L972.8 391.9 L976.0 389.4 L978.5 386.4 L980.0 388.9 L982.0 390.5 L984.5 392.9 L987.0 396.6 L990.0 393.9 L993.0 392.4 L995.0 393.4 L997.2 395.2 L1003.5 395.2 L1005.0 404.4 L1006.8 413.9 L1008.3 417.6 L1009.6 418.1 L1011.0 416.9 L1011.8 413.9 L1013.5 404.4 L1015.1 396.6 L1018.0 395.6 L1023.9 395.2 L1025.6 392.7 L1032.2 392.7 L1033.8 395.2 L1036.6 395.2 L1038.5 392.2 L1040.5 395.2 L1044.0 398.8 L1046.0 400.2 L1048.2 394.6 L1050.4 394.6 L1053.1 398.8 L1057.0 399.3 L1059.2 395.4 L1070.0 395.2 L1071.0 396.2 L1072.0 395.2 L1103.3 395.2 L1105.5 393.8 L1110.2 393.8 L1111.6 395.2 L1123.1 395.2 L1124.8 389.7 L1126.7 388.3 L1128.6 389.1 L1130.8 387.2 L1132.2 394.1 L1134.2 395.4 L1156.2 395.2 L1157.6 390.5 L1162.5 390.0 L1163.9 387.8 L1165.3 393.8 L1168.0 395.2 L1181.8 395.2 L1181.8 350.3 L659.2 350.3Z" fill="#b8a9f0" fill-opacity="0.105" stroke="none"/>
<path d="M659.2 391.0 L678.0 393.8 L681.0 412.4 L684.8 438.7 L688.0 440.0 L692.3 440.6 L693.7 434.0 L699.7 434.4 L701.4 440.6 L708.8 440.6 L712.0 422.4 L716.3 395.2 L735.0 395.2 L736.4 397.1 L741.9 397.1 L743.0 395.2 L753.0 395.2 L754.3 397.1 L759.8 397.1 L761.0 395.2 L776.3 395.2 L777.7 396.6 L783.2 396.6 L784.5 395.2 L795.2 395.4 L797.0 400.1 L803.4 400.1 L804.8 395.2 L813.0 395.2 L814.4 391.3 L820.8 391.3 L822.1 395.2 L827.0 395.2 L831.0 396.2 L833.7 393.8 L839.2 393.8 L840.6 395.2 L845.0 395.6 L848.9 394.1 L852.0 393.4 L854.4 391.9 L858.0 390.4 L861.3 386.4 L863.2 387.2 L865.5 390.9 L868.2 395.2 L917.7 395.2 L919.7 392.4 L926.0 392.4 L927.4 395.2 L930.0 394.9 L932.9 393.3 L936.5 389.9 L939.0 391.4 L942.5 395.2 L966.0 395.2 L968.7 393.3 L972.8 391.9 L976.0 389.4 L978.5 386.4 L980.0 388.9 L982.0 390.5 L984.5 392.9 L987.0 396.6 L990.0 393.9 L993.0 392.4 L995.0 393.4 L997.2 395.2 L1003.5 395.2 L1005.0 404.4 L1006.8 413.9 L1008.3 417.6 L1009.6 418.1 L1011.0 416.9 L1011.8 413.9 L1013.5 404.4 L1015.1 396.6 L1018.0 395.6 L1023.9 395.2 L1025.6 392.7 L1032.2 392.7 L1033.8 395.2 L1036.6 395.2 L1038.5 392.2 L1040.5 395.2 L1044.0 398.8 L1046.0 400.2 L1048.2 394.6 L1050.4 394.6 L1053.1 398.8 L1057.0 399.3 L1059.2 395.4 L1070.0 395.2 L1071.0 396.2 L1072.0 395.2 L1103.3 395.2 L1105.5 393.8 L1110.2 393.8 L1111.6 395.2 L1123.1 395.2 L1124.8 389.7 L1126.7 388.3 L1128.6 389.1 L1130.8 387.2 L1132.2 394.1 L1134.2 395.4 L1156.2 395.2 L1157.6 390.5 L1162.5 390.0 L1163.9 387.8 L1165.3 393.8 L1168.0 395.2 L1181.8 395.2" fill="none" stroke="#bcb0f0" stroke-width="1.4" stroke-linejoin="round"/>
<path d="M659.2 349.5H1181.8" stroke="#f08080" stroke-width=".8" opacity=".55"/>
<path d="M681 349.3H712.5" stroke="#f08080" stroke-width=".9" opacity=".8"/>
<path d="M661 351.8H672" stroke="#f39494" stroke-width="1.1"/>
<path d="M693 351.8H705" stroke="#f39494" stroke-width="1.1"/>
<path d="M725 351.8H733" stroke="#f39494" stroke-width="1.1"/>
<path d="M737.5 351.2 L740.3 353.1 L743.2 353.1 L746 351.2" fill="none" stroke="#f28c8c" stroke-width="1.1" stroke-linejoin="round"/>
<path d="M753 351.8H770" stroke="#f39494" stroke-width="1.1"/>
<path d="M778 351.8H807.5" stroke="#f39494" stroke-width="1.1"/>
<path d="M825 351.2 L827.8 356.2 L831.2 356.2 L834 351.2" fill="none" stroke="#f28c8c" stroke-width="1.1" stroke-linejoin="round"/>
<path d="M838 351.8H842" stroke="#f39494" stroke-width="1.1"/>
<path d="M847.5 351.8H862.6" stroke="#f39494" stroke-width="1.1"/>
<path d="M868 351.8H876.4" stroke="#f39494" stroke-width="1.1"/>
<path d="M887.4 351.8H894.3" stroke="#f39494" stroke-width="1.1"/>
<path d="M915 351.2 L917.8 352.5 L927.2 352.5 L930 351.2" fill="none" stroke="#f28c8c" stroke-width="1.1" stroke-linejoin="round"/>
<path d="M952 351.2 L954.8 352.3 L963.2 352.3 L966 351.2" fill="none" stroke="#f28c8c" stroke-width="1.1" stroke-linejoin="round"/>
<path d="M986 351.2 L988.8 352.8 L993.2 352.8 L996 351.2" fill="none" stroke="#f28c8c" stroke-width="1.1" stroke-linejoin="round"/>
<path d="M998.5 351.2 L1001.3 352.4 L1005.2 352.4 L1008 351.2" fill="none" stroke="#f28c8c" stroke-width="1.1" stroke-linejoin="round"/>
<path d="M1022 351.2 L1024.8 352.7 L1028.8 352.7 L1031.6 351.2" fill="none" stroke="#f28c8c" stroke-width="1.1" stroke-linejoin="round"/>
<path d="M1038.5 351.2 L1041.3 352.5 L1045.2 352.5 L1048 351.2" fill="none" stroke="#f28c8c" stroke-width="1.1" stroke-linejoin="round"/>
<path d="M1057.8 351.2 L1060.6 352.6 L1072.9 352.6 L1075.7 351.2" fill="none" stroke="#f28c8c" stroke-width="1.1" stroke-linejoin="round"/>
<path d="M1130.8 351.2 L1133.5 352.7 L1136.3 352.7 L1139 351.2" fill="none" stroke="#f28c8c" stroke-width="1.1" stroke-linejoin="round"/>
<path d="M1100 351.8H1108" stroke="#f39494" stroke-width="1.1"/>
<path d="M1150 351.8H1156" stroke="#f39494" stroke-width="1.1"/>
<path d="M659.2 350.6H1181.8" stroke="#5590e8" stroke-width="1.6"/>
</svg>
<div class="t" style="left:602px;width:592.8px;text-align:center;top:68px;line-height:60px;font-size:49.4px;letter-spacing:4px;text-indent:4px;color:#73bf69;-webkit-text-stroke:1.1px #73bf69">22</div>
<div class="t" style="left:828px;top:221px;line-height:50px;font-size:38.6px;letter-spacing:.9px;color:#73bf69;-webkit-text-stroke:.9px #73bf69">2.74<span style="font-size:24.3px;letter-spacing:.45px;margin-left:7.6px;-webkit-text-stroke:.55px #73bf69">req/s</span></div>
<div class="t ay" style="right:543.3px;top:344.3px;letter-spacing:.2px">0 b/s</div>
<div class="t ay" style="right:543.3px;top:367.2px;letter-spacing:.2px">-2.50 Mb/s</div>
<div class="t ay" style="right:543.3px;top:390.1px;letter-spacing:.2px">-5 Mb/s</div>
<div class="t ay" style="right:543.3px;top:413.0px;letter-spacing:.2px">-7.50 Mb/s</div>
<div class="t ay" style="right:543.3px;top:435.9px;letter-spacing:.2px">-10 Mb/s</div>
<div class="t ax" style="left:661.2px;width:40px;text-align:center;top:454.3px">13:00</div>
<div class="t ax" style="left:704.8px;width:40px;text-align:center;top:454.3px">13:30</div>
<div class="t ax" style="left:748.3px;width:40px;text-align:center;top:454.3px">14:00</div>
<div class="t ax" style="left:791.9px;width:40px;text-align:center;top:454.3px">14:30</div>
<div class="t ax" style="left:835.4px;width:40px;text-align:center;top:454.3px">15:00</div>
<div class="t ax" style="left:879.0px;width:40px;text-align:center;top:454.3px">15:30</div>
<div class="t ax" style="left:922.5px;width:40px;text-align:center;top:454.3px">16:00</div>
<div class="t ax" style="left:966.0px;width:40px;text-align:center;top:454.3px">16:30</div>
<div class="t ax" style="left:1009.6px;width:40px;text-align:center;top:454.3px">17:00</div>
<div class="t ax" style="left:1053.2px;width:40px;text-align:center;top:454.3px">17:30</div>
<div class="t ax" style="left:1096.7px;width:40px;text-align:center;top:454.3px">18:00</div>
<div class="t ax" style="left:1140.2px;width:40px;text-align:center;top:454.3px">18:30</div>
<div class="t lg" style="left:630px;top:467.5px;">Name</div>
<div class="t lg" style="left:1101px;top:467.5px;">Mean</div>
<div class="t lg" style="left:1155px;top:467.5px;">Max</div>
<div class="hl" style="left:609px;top:482px;width:578.5px"></div>
<div style="position:absolute;left:615px;top:488.3px;width:9.6px;height:3px;border-radius:1px;background:#5fae55"></div>
<div class="t ax" style="left:629.8px;top:485.0px;letter-spacing:.07px">draw_backend - In</div>
<div class="t ax" style="left:1107px;top:485.0px;">0 b/s</div>
<div class="t ax" style="left:1161px;top:485.0px;">0 b/s</div>
</body></html>
